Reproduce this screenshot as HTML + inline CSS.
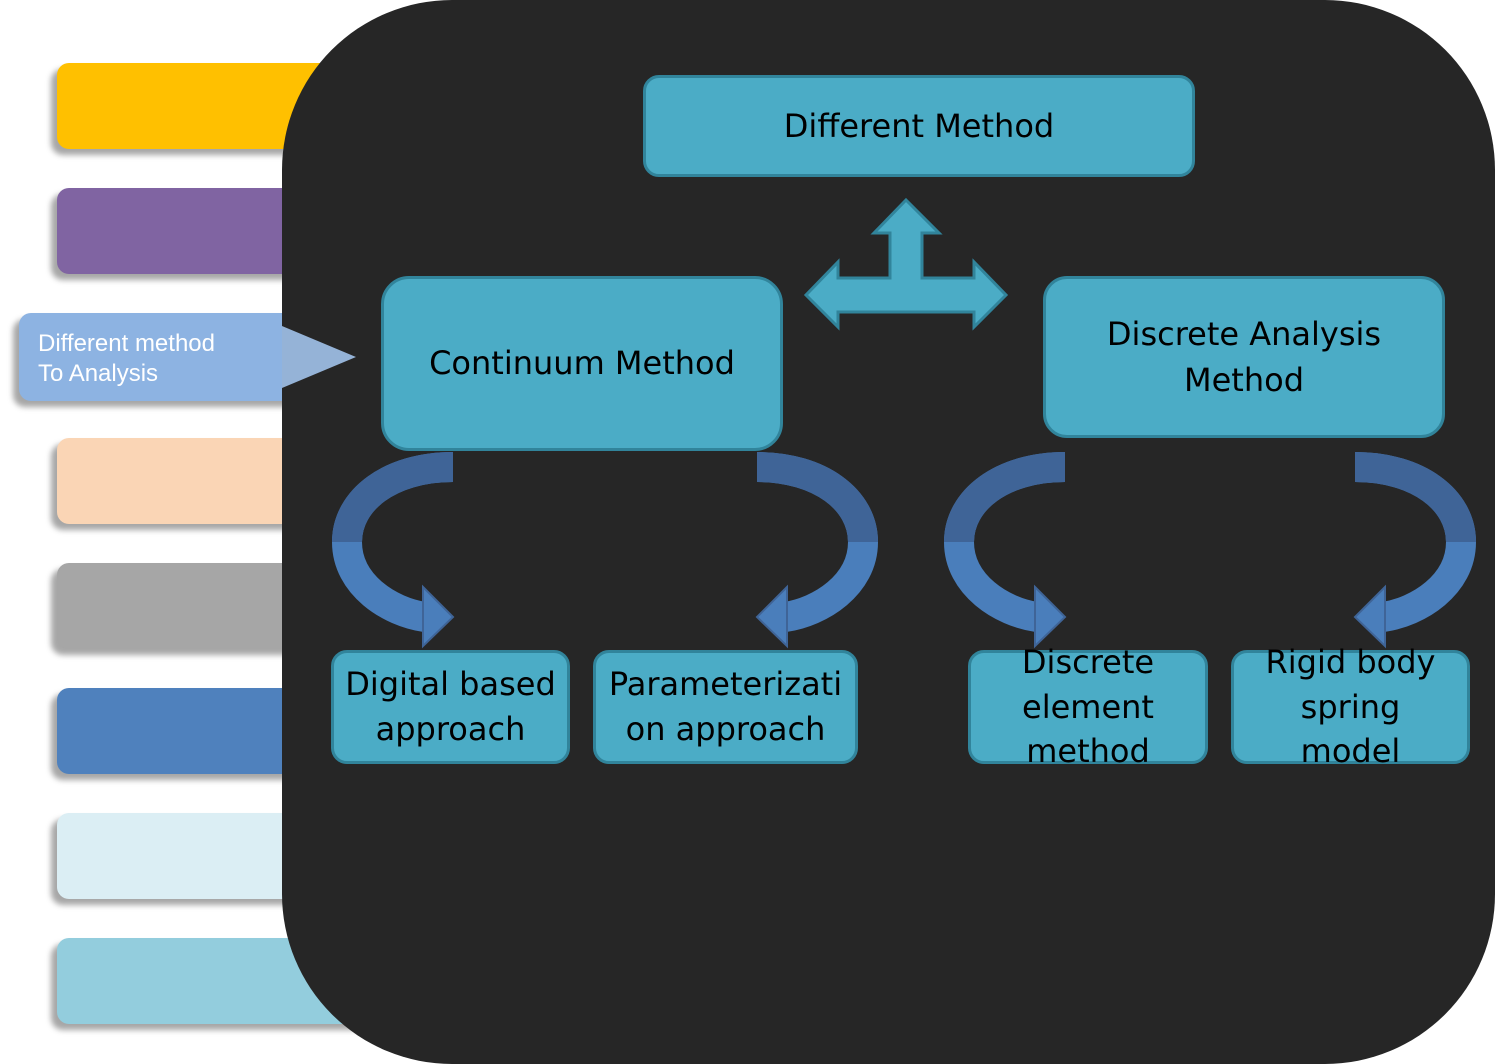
<!DOCTYPE html>
<html><head><style>
body{margin:0;width:1495px;height:1064px;background:#fff;position:relative;overflow:hidden;font-family:"Liberation Sans",sans-serif}
.tab{position:absolute;left:57px;width:330px;height:86px;border-radius:12px;box-shadow:-6px 6px 6px rgba(0,0,0,.35)}
#panel{position:absolute;left:282px;top:0;width:1213px;height:1064px;background:#262626;border-radius:170px}
.box{position:absolute;background:#4bacc6;border:3px solid #31849b;border-radius:16px;display:flex;align-items:center;justify-content:center;text-align:center;color:#000;font-family:"DejaVu Sans","Liberation Sans",sans-serif;box-sizing:border-box;line-height:1.2}
</style></head><body>
<div class="tab" style="top:63px;background:#ffc000"></div>
<div class="tab" style="top:188px;background:#8064a2"></div>
<div class="tab" style="top:438px;background:#fad5b5"></div>
<div class="tab" style="top:563px;background:#a6a6a6"></div>
<div class="tab" style="top:688px;background:#4f81bd"></div>
<div class="tab" style="top:813px;background:#dbeef4"></div>
<div class="tab" style="top:938px;background:#93cddd"></div>
<div style="position:absolute;left:19px;top:313px;width:300px;height:88px;background:#8db3e2;border-radius:12px;box-shadow:-6px 6px 6px rgba(0,0,0,.35)"></div>
<div id="panel"></div>
<svg style="position:absolute;left:0;top:0" width="1495" height="1064">
<polygon points="282,326 356,357 282,388" fill="#95b3d7"/>
<text x="38" y="351" fill="#fff" font-size="24" font-family="Liberation Sans">Different method</text>
<text x="38" y="381" fill="#fff" font-size="24" font-family="Liberation Sans">To Analysis</text>
<polygon points="906,200 939,233 922,233 922,278 974,278 974,262 1006,295 974,327 974,312 838,312 838,327 806,295 838,262 838,278 890,278 890,233 874,233" fill="#4bacc6" stroke="#31849b" stroke-width="3"/>
<g fill="none" stroke-width="30">
<path d="M453,467 C390,467 347,500 347,542 C347,585 390,612 425,617" stroke="#4a7ebb"/>
<path d="M453,467 C390,467 347,500 347,542" stroke="#3f6497"/>
<path d="M757,467 C820,467 863,500 863,542 C863,585 820,612 785,617" stroke="#4a7ebb"/>
<path d="M757,467 C820,467 863,500 863,542" stroke="#3f6497"/>
<path d="M1065,467 C1002,467 959,500 959,542 C959,585 1002,612 1037,617" stroke="#4a7ebb"/>
<path d="M1065,467 C1002,467 959,500 959,542" stroke="#3f6497"/>
<path d="M1355,467 C1418,467 1461,500 1461,542 C1461,585 1418,612 1383,617" stroke="#4a7ebb"/>
<path d="M1355,467 C1418,467 1461,500 1461,542" stroke="#3f6497"/>
</g>
<g fill="#4a7ebb" stroke="#3f6497" stroke-width="2">
<polygon points="423,587 453,617 423,646"/>
<polygon points="787,587 757,617 787,646"/>
<polygon points="1035,587 1065,617 1035,646"/>
<polygon points="1385,587 1355,617 1385,646"/>
</g>
</svg>
<div class="box" style="left:643px;top:75px;width:552px;height:102px;font-size:32px">Different Method</div>
<div class="box" style="left:381px;top:276px;width:402px;height:175px;font-size:32px;border-radius:28px">Continuum Method</div>
<div class="box" style="left:1043px;top:276px;width:402px;height:162px;font-size:32px;border-radius:24px;line-height:1.45">Discrete Analysis<br>Method</div>
<div class="box" style="left:331px;top:650px;width:239px;height:114px;font-size:32px;line-height:1.4">Digital based<br>approach</div>
<div class="box" style="left:593px;top:650px;width:265px;height:114px;font-size:32px;line-height:1.4">Parameterizati<br>on approach</div>
<div class="box" style="left:968px;top:650px;width:240px;height:114px;font-size:32px;line-height:1.4">Discrete<br>element<br>method</div>
<div class="box" style="left:1231px;top:650px;width:239px;height:114px;font-size:32px;line-height:1.4">Rigid body<br>spring<br>model</div>
</body></html>
